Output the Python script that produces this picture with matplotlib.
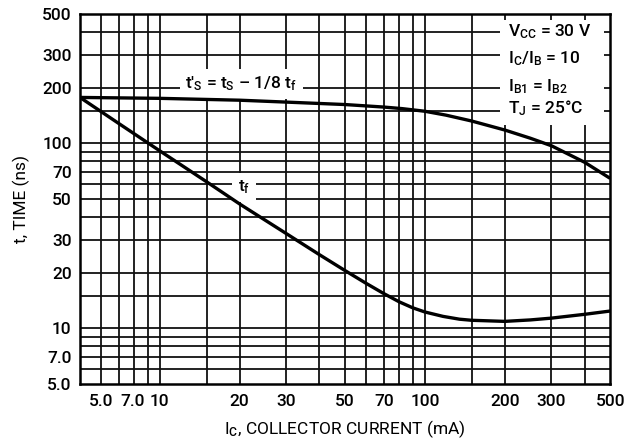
import numpy as np
import matplotlib
matplotlib.use('Agg')
import matplotlib.pyplot as plt
from matplotlib.patches import Rectangle

FONT = 'Roboto'
plt.rcParams['font.family'] = [FONT, 'Liberation Sans', 'DejaVu Sans']
plt.rcParams['font.weight'] = 'medium'
plt.rcParams['mathtext.fontset'] = 'custom'
plt.rcParams['mathtext.rm'] = FONT + ':medium'
plt.rcParams['mathtext.it'] = FONT + ':medium'
plt.rcParams['mathtext.default'] = 'rm'

# storage time t's (ns) vs collector current (mA)
ic_ts = [5, 10, 20, 30, 50, 70, 82, 100, 120, 150, 200, 250, 300, 400, 500]
ts = [177, 175, 171, 167, 162, 157, 154, 149, 142, 132, 118, 106.5, 97, 79, 64.6]

# fall time tf (ns)
ic_tf = [5, 7, 10, 15, 20, 30, 40, 50, 60, 70, 80, 90, 100, 117, 135, 150, 200, 250, 300, 400, 500]
tf = [177, 128, 91, 62, 47, 32.5, 25.0, 20.5, 17.5, 15.4, 13.9, 12.9, 12.25, 11.6, 11.2,
      11.05, 10.9, 11.1, 11.35, 11.9, 12.4]

# grid lines as printed on the chart
x_grid = [6, 7, 8, 9, 10, 15, 20, 30, 40, 50, 60, 70, 80, 90, 100, 150, 200, 300, 400]
y_grid = [6, 7, 8, 9, 10, 15, 20, 30, 40, 50, 60, 70, 80, 90, 100, 150, 200, 300, 400]

# tick labels (placed where the original sheet prints them)
x_tick_pos = [6.0, 7.9, 10, 20, 30, 50, 70, 100, 200, 300, 500]
x_tick_lab = ['5.0', '7.0', '10', '20', '30', '50', '70', '100', '200', '300', '500']
y_tick_pos = [5, 7, 10, 20, 30, 50, 70, 100, 200, 300, 500]
y_tick_lab = ['5.0', '7.0', '10', '20', '30', '50', '70', '100', '200', '300', '500']

fig = plt.figure(figsize=(6.35, 4.43), dpi=100)
ax = fig.add_axes([0.126, 0.1332, 0.835, 0.8352])
ax.set_xscale('log')
ax.set_yscale('log')
ax.set_xlim(5, 500)
ax.set_ylim(5, 500)

for v in x_grid:
    ax.axvline(v, color='#111111', lw=1.3, zorder=1)
for v in y_grid:
    ax.axhline(v, color='#111111', lw=1.3, zorder=1)

ax.xaxis.set_minor_locator(matplotlib.ticker.NullLocator())
ax.yaxis.set_minor_locator(matplotlib.ticker.NullLocator())
ax.set_xticks(x_tick_pos)
ax.set_xticklabels(x_tick_lab)
ax.set_yticks(y_tick_pos)
ax.set_yticklabels(y_tick_lab)
ax.tick_params(length=0, labelsize=12.5, pad=6)
ax.tick_params(axis='x', pad=7)

for s in ax.spines.values():
    s.set_linewidth(1.8)
    s.set_zorder(5)

ax.plot(ic_ts, ts, color='black', lw=2.4, zorder=4, solid_capstyle='butt')
ax.plot(ic_tf, tf, color='black', lw=2.4, zorder=4, solid_capstyle='butt')

ax.text(0.3038, 0.8108, "t\u2032$_{\\rm S}$ = t$_{\\rm S}$ \u2013 1/8 t$_{\\rm f}$", transform=ax.transAxes,
        ha='center', va='center', fontsize=12.5, zorder=3,
        bbox=dict(facecolor='white', edgecolor='none', pad=4))
ax.text(0.309, 0.532, "t$_{\\rm f}$", transform=ax.transAxes,
        ha='center', va='center', fontsize=12.5, zorder=3,
        bbox=dict(facecolor='white', edgecolor='none', pad=4))

ax.add_patch(Rectangle((0.7925, 0.70), 0.196, 0.284, transform=ax.transAxes,
                       facecolor='white', edgecolor='none', zorder=2))
cond = ["V$_{\\rm CC}$ = 30 V", "I$_{\\rm C}$/I$_{\\rm B}$ = 10",
        "I$_{\\rm B1}$ = I$_{\\rm B2}$", "T$_{\\rm J}$ = 25\u00b0C"]
for txt, yy in zip(cond, [0.952, 0.879, 0.803, 0.745]):
    ax.text(0.8075, yy, txt, transform=ax.transAxes, ha='left', va='center',
            fontsize=12.5, zorder=3)

ax.set_xlabel("I$_{\\rm C}$, COLLECTOR CURRENT (mA)", fontsize=12.5, labelpad=7)
ax.set_ylabel("t, TIME (ns)", fontsize=12.5, labelpad=9)

fig.savefig('out.png', dpi=100)
